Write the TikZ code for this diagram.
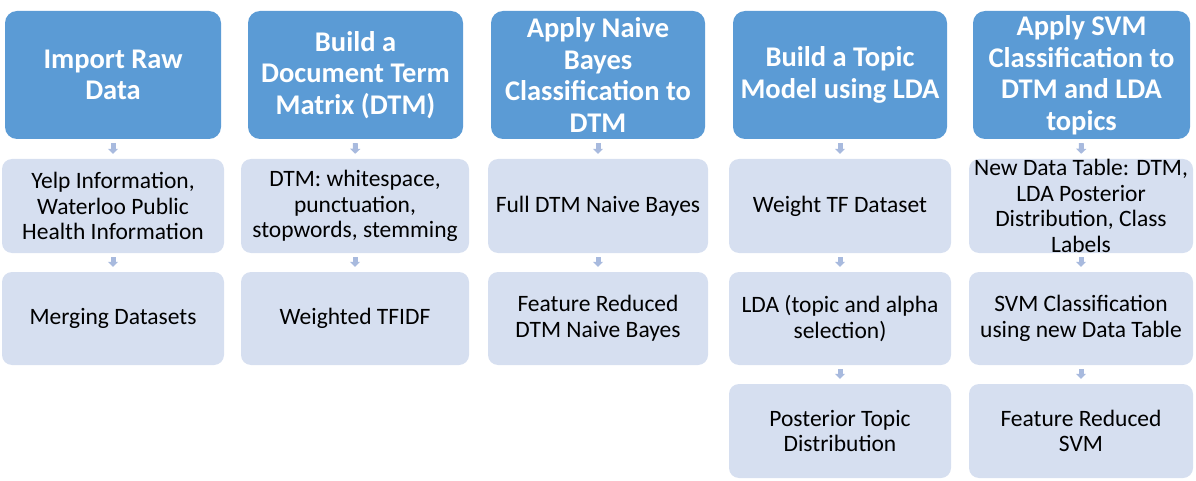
\documentclass[tikz,border=0pt]{standalone}
\usepackage{fontspec}
\setmainfont{Carlito}
\usetikzlibrary{arrows.meta}
\definecolor{hdrblue}{RGB}{91,155,213}
\definecolor{subfill}{RGB}{214,223,240}
\definecolor{arrowc}{RGB}{168,186,222}
\tikzset{
  hdr/.style={draw=none, fill=hdrblue, rounded corners=12pt, text=white,
    font=\fontsize{28.5}{31.5}\selectfont\bfseries, align=center, inner sep=0pt},
  sub/.style={draw=none, fill=subfill, rounded corners=10pt, text=black,
    font=\fontsize{23.5}{25.7}\selectfont, align=center, inner sep=0pt},
  flow/.style={draw=arrowc, line width=5pt, -{Triangle[width=10pt,length=5pt]},
    shorten <=4pt, shorten >=5pt}
}
\begin{document}
\begin{tikzpicture}[x=1pt,y=-1pt]
\useasboundingbox (0,0) rectangle (1196,481);
% headers (y 11..139)
\node[hdr, minimum width=216pt, minimum height=128pt] (h1) at (113,75) {Import Raw\\Data};
\node[hdr, minimum width=215pt, minimum height=128pt] (h2) at (355.5,75) {Build a\\Document Term\\Matrix (DTM)};
\node[hdr, minimum width=214pt, minimum height=128pt] (h3) at (598,75) {Apply Naive\\Bayes\\Classification to\\DTM};
\node[hdr, minimum width=214pt, minimum height=128pt] (h4) at (840,75) {Build a Topic\\Model using LDA};
\node[hdr, minimum width=217pt, minimum height=128pt] (h5) at (1081.5,75) {Apply SVM\\Classification to\\DTM and LDA\\topics};
% row 1 (y 159..253)
\node[sub, minimum width=222pt, minimum height=94pt] (a1) at (113,206) {Yelp Information,\\Waterloo Public\\Health Information};
\node[sub, minimum width=228pt, minimum height=94pt] (b1) at (355,206) {DTM: whitespace,\\punctuation,\\stopwords, stemming};
\node[sub, minimum width=220pt, minimum height=94pt] (c1) at (598,206) {Full DTM Naive Bayes};
\node[sub, minimum width=222pt, minimum height=94pt] (d1) at (840,206) {Weight TF Dataset};
\node[sub, minimum width=224pt, minimum height=94pt] (e1) at (1081,206) {New Data Table: DTM,\\LDA Posterior\\Distribution, Class\\Labels};
% row 2 (y 272..365)
\node[sub, minimum width=222pt, minimum height=93pt] (a2) at (113,318.5) {Merging Datasets};
\node[sub, minimum width=228pt, minimum height=93pt] (b2) at (355,318.5) {Weighted TFIDF};
\node[sub, minimum width=220pt, minimum height=93pt] (c2) at (598,318.5) {Feature Reduced\\DTM Naive Bayes};
\node[sub, minimum width=222pt, minimum height=93pt] (d2) at (840,318.5) {LDA (topic and alpha\\selection)};
\node[sub, minimum width=224pt, minimum height=93pt] (e2) at (1081,318.5) {SVM Classification\\using new Data Table};
% row 3 (y 384..478)
\node[sub, minimum width=222pt, minimum height=94pt] (d3) at (840,431) {Posterior Topic\\Distribution};
\node[sub, minimum width=224pt, minimum height=94pt] (e3) at (1081,431) {Feature Reduced\\SVM};
% arrows
\draw[flow] (h1.south) -- (a1.north);
\draw[flow] (a1.south) -- (a2.north);
\draw[flow] (h2.south) -- (b1.north);
\draw[flow] (b1.south) -- (b2.north);
\draw[flow] (h3.south) -- (c1.north);
\draw[flow] (c1.south) -- (c2.north);
\draw[flow] (h4.south) -- (d1.north);
\draw[flow] (d1.south) -- (d2.north);
\draw[flow] (d2.south) -- (d3.north);
\draw[flow] (h5.south) -- (e1.north);
\draw[flow] (e1.south) -- (e2.north);
\draw[flow] (e2.south) -- (e3.north);
\end{tikzpicture}
\end{document}
